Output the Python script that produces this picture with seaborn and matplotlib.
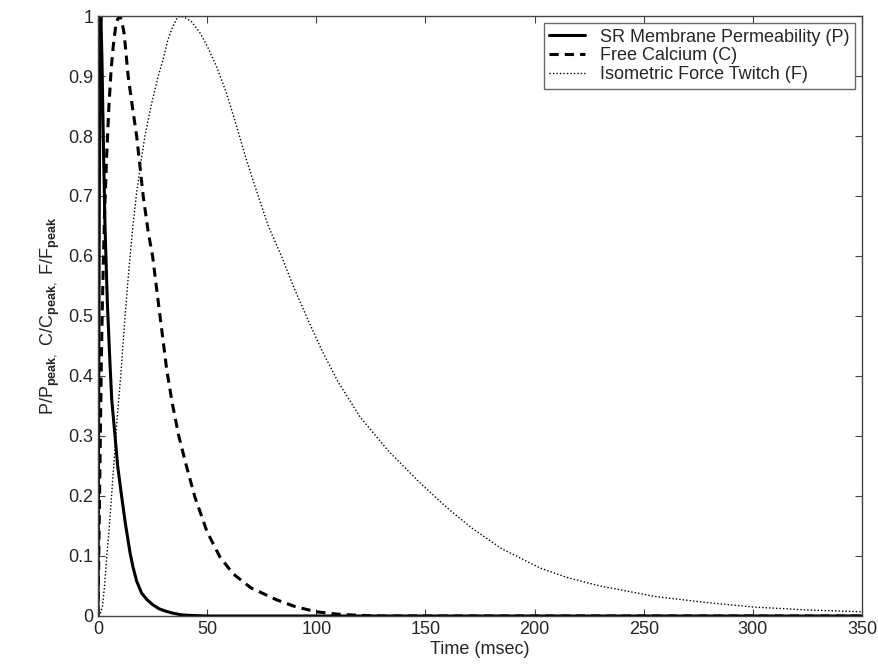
import numpy as np
import pandas as pd
import seaborn as sns
import matplotlib
matplotlib.use("Agg")
import matplotlib.pyplot as plt

# values (time in msec, normalised amplitude)
p_time = [0, 0.3, 0.6, 1, 1.3, 1.8, 2.5, 3.2, 4.3, 5.5, 6.3, 7.8, 9, 10.8, 12.5, 14.7, 16, 17.7,
          20, 22.5, 25, 28, 31, 34, 38, 42, 50, 350]
p_vals = [0, 0.35, 0.7, 0.97, 1.0, 0.93, 0.78, 0.65, 0.52, 0.42, 0.36, 0.30, 0.25, 0.20, 0.155,
          0.105, 0.082, 0.058, 0.038, 0.027, 0.019, 0.012, 0.008, 0.005, 0.002, 0.001, 0, 0]

c_time = [0, 0.5, 1, 1.5, 2, 3, 4, 5, 6, 7, 8, 9, 10, 11, 12, 13.8, 15.7, 17.7, 20.7, 23, 25,
          28.4, 31.5, 34, 37, 40.5, 44.4, 50, 55.9, 62, 70, 81.8, 90, 100, 110, 120, 130, 350]
c_vals = [0, 0.14, 0.28, 0.42, 0.52, 0.67, 0.77, 0.85, 0.91, 0.95, 0.98, 0.995, 1.0, 0.99, 0.97,
          0.90, 0.85, 0.80, 0.70, 0.64, 0.60, 0.50, 0.41, 0.355, 0.30, 0.25, 0.198, 0.14, 0.098,
          0.07, 0.047, 0.027, 0.016, 0.007, 0.003, 0.001, 0, 0]

f_time = [0, 1, 2, 3, 4, 5, 6, 7, 8, 9, 10.4, 11.4, 12.4, 13.5, 14.7, 16, 17.5, 19.4, 21.5, 24.3,
          27.6, 30, 32, 34, 36, 37.6, 40, 43, 46.7, 50, 54.4, 59, 64, 68, 73.4, 78, 84, 90, 96,
          102.5, 110, 120, 133, 147.5, 160, 171.8, 185, 202.5, 215, 230, 256, 280, 300, 325, 350]
f_vals = [0, 0.004, 0.015, 0.05, 0.10, 0.14, 0.19, 0.24, 0.29, 0.34, 0.40, 0.45, 0.50, 0.55, 0.60,
          0.65, 0.70, 0.75, 0.80, 0.85, 0.90, 0.93, 0.96, 0.98, 0.995, 1.0, 0.997, 0.99, 0.972,
          0.95, 0.915, 0.87, 0.81, 0.76, 0.70, 0.65, 0.60, 0.545, 0.495, 0.443, 0.39, 0.332,
          0.275, 0.222, 0.18, 0.145, 0.112, 0.08, 0.064, 0.05, 0.032, 0.022, 0.015, 0.01, 0.007]

labels = ["SR Membrane Permeability (P)", "Free Calcium (C)", "Isometric Force Twitch (F)"]

sns.set_style("ticks")
plt.rcParams["font.family"] = ["Liberation Sans", "DejaVu Sans"]
plt.rcParams["mathtext.fontset"] = "custom"
plt.rcParams["mathtext.rm"] = "Liberation Sans"
plt.rcParams["mathtext.bf"] = "Liberation Sans:bold"

fig = plt.figure(figsize=(8.79, 6.64), dpi=100)
ax = fig.add_axes([0.1115, 0.0723, 0.8692, 0.9036])

sns.lineplot(x=p_time, y=p_vals, ax=ax, color="black", linewidth=2.2, label=labels[0])
sns.lineplot(x=c_time, y=c_vals, ax=ax, color="black", linewidth=2.2, linestyle=(0, (3, 2)),
             label=labels[1])
sns.lineplot(x=f_time, y=f_vals, ax=ax, color="black", linewidth=1.0, linestyle=(0, (1, 1.5)),
             label=labels[2])

ax.set_xlim(0, 350)
ax.set_ylim(0, 1)
ax.set_xticks(np.arange(0, 351, 50))
ax.set_yticks(np.arange(0, 1.01, 0.1))
ax.set_yticklabels(["0"] + ["%.1f" % v for v in np.arange(0.1, 0.95, 0.1)] + ["1"])
ax.tick_params(direction="in", top=True, right=True, labelsize=13, length=5, color="#444444")
for s in ax.spines.values():
    s.set_visible(True)
    s.set_color("#444444")
    s.set_linewidth(1)

ax.set_xlabel("Time (msec)", fontsize=13, labelpad=2)
ax.set_ylabel(r"P/P$_{\mathbf{peak},}$ C/C$_{\mathbf{peak},}$ F/F$_{\mathbf{peak}}$", fontsize=13)

leg = ax.legend(loc="upper right", fontsize=13, frameon=True, fancybox=False, handlelength=2,
                borderaxespad=0.4, labelspacing=0.1, borderpad=0.3)
leg.get_frame().set_edgecolor("#444444")
leg.get_frame().set_linewidth(1)

fig.savefig("out.png", dpi=100)
